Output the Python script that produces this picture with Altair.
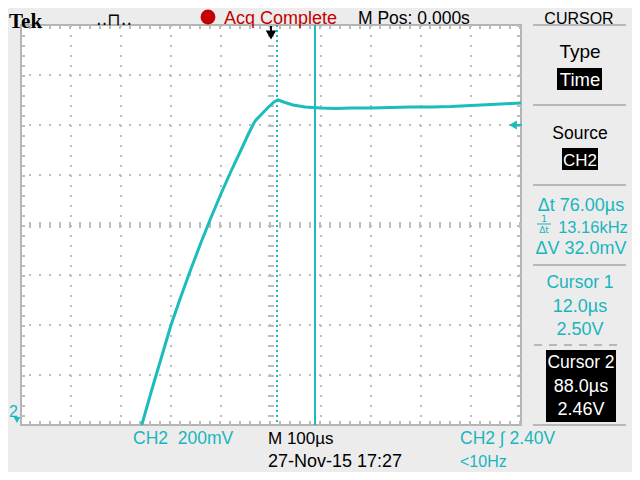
import altair as alt
import pandas as pd

# ---- waveform (time in microseconds, volts) ----
t_us = [-262, -240, -220, -200, -180, -160, -140, -120, -100, -80, -60, -45, -35, -30,
        -18, -6, 6, 14, 28, 44, 68, 98, 130, 160, 200, 240, 280, 320, 360, 400,
        440, 480, 500]
volts = [1.175, 1.33, 1.465, 1.60, 1.715, 1.825, 1.93, 2.03, 2.125, 2.215, 2.30, 2.365,
         2.405, 2.42, 2.445, 2.47, 2.492, 2.50, 2.49, 2.48, 2.472, 2.468, 2.466, 2.468,
         2.468, 2.47, 2.472, 2.472, 2.474, 2.478, 2.482, 2.486, 2.488]

grid_t = [-400, -300, -200, -100, 100, 200, 300, 400]
grid_v = [1.4, 1.6, 1.8, 2.2, 2.4, 2.6]
center_t = [0]
center_v = [2.0]
cursor1_t = [12.0]
cursor2_t = [88.0]
trigger_v = [2.40]

header = ["Tek", "Acq Complete", "M Pos: 0.000s", "CURSOR"]
panel = ["Type", "Time", "Source", "CH2", "Δt 76.00µs", "13.16kHz", "ΔV 32.0mV",
         "Cursor 1", "12.0µs", "2.50V", "Cursor 2", "88.0µs", "2.46V"]
footer = ["CH2\u00a0\u00a0200mV", "M 100µs", "CH2 ∫ 2.40V", "27-Nov-15 17:27", "<10Hz"]

TEAL = "#1cbcbc"
TXT_TEAL = "#19b5bd"
GRID = "#bdbdbd"
RED = "#c40000"
SANS = "Liberation Sans, Arial, sans-serif"

OX, OY = 21, 25  # page position of the graticule

xs = alt.Scale(domain=[-500, 500], nice=False, zero=False)
ys = alt.Scale(domain=[1.2, 2.8], nice=False, zero=False)

wave = pd.DataFrame({"t": t_us, "v": volts})


def one():
    return alt.Data(values=[{"k": 0}])


def txt(s, x, y, color="#000", size=18, align="center", font=SANS, weight="normal"):
    return alt.Chart(alt.Data(values=[{"s": s}])).mark_text(
        align=align, baseline="alphabetic", font=font, fontSize=size,
        color=color, fontWeight=weight
    ).encode(x=alt.value(x - OX), y=alt.value(y - OY), text="s:N")


def hline(x1, x2, y, color="#b8b8b8", w=2, dash=None):
    kw = dict(color=color, strokeWidth=w)
    if dash:
        kw["strokeDash"] = dash
    return alt.Chart(one()).mark_rule(**kw).encode(
        x=alt.value(x1 - OX), x2=alt.value(x2 - OX), y=alt.value(y - OY))


def box(x1, x2, y1, y2, color="#000"):
    return alt.Chart(one()).mark_rect(color=color).encode(
        x=alt.value(x1 - OX), x2=alt.value(x2 - OX),
        y=alt.value(y1 - OY), y2=alt.value(y2 - OY))


layers = []

# dotted graticule
layers.append(alt.Chart(pd.DataFrame({"t": grid_t})).mark_rule(
    color=GRID, strokeWidth=2, strokeDash=[2, 8]).encode(x=alt.X("t:Q", scale=xs, axis=None)))
layers.append(alt.Chart(pd.DataFrame({"v": grid_v})).mark_rule(
    color=GRID, strokeWidth=2, strokeDash=[2, 8]).encode(y=alt.Y("v:Q", scale=ys, axis=None)))
# centre cross with minor ticks
layers.append(alt.Chart(pd.DataFrame({"t": center_t})).mark_rule(
    color=GRID, strokeWidth=6, strokeDash=[2, 8]).encode(x=alt.X("t:Q", scale=xs, axis=None)))
layers.append(alt.Chart(pd.DataFrame({"v": center_v})).mark_rule(
    color=GRID, strokeWidth=6, strokeDash=[2, 8]).encode(y=alt.Y("v:Q", scale=ys, axis=None)))
# edge ticks (clipped to inside)
layers.append(alt.Chart(pd.DataFrame({"v": [1.2, 2.8]})).mark_rule(
    color=GRID, strokeWidth=8, strokeDash=[2, 8], clip=True).encode(y=alt.Y("v:Q", scale=ys, axis=None)))
layers.append(alt.Chart(pd.DataFrame({"t": [-500, 500]})).mark_rule(
    color=GRID, strokeWidth=8, strokeDash=[2, 8], clip=True).encode(x=alt.X("t:Q", scale=xs, axis=None)))

# cursors
layers.append(alt.Chart(pd.DataFrame({"t": cursor1_t})).mark_rule(
    color=TEAL, strokeWidth=2, strokeDash=[2, 3]).encode(x=alt.X("t:Q", scale=xs, axis=None)))
layers.append(alt.Chart(pd.DataFrame({"t": cursor2_t})).mark_rule(
    color=TEAL, strokeWidth=2).encode(x=alt.X("t:Q", scale=xs, axis=None)))

# waveform
layers.append(alt.Chart(wave).mark_line(color=TEAL, strokeWidth=3, clip=True).encode(
    x=alt.X("t:Q", scale=xs, axis=None), y=alt.Y("v:Q", scale=ys, axis=None)))

# trigger position marker (top) and trigger level marker (right)
layers.append(alt.Chart(pd.DataFrame({"t": center_t})).mark_point(
    shape="triangle-down", filled=True, color="#000", size=110, opacity=1).encode(
    x=alt.X("t:Q", scale=xs, axis=None), y=alt.value(10)))
layers.append(alt.Chart(pd.DataFrame({"t": center_t})).mark_rule(color="#000", strokeWidth=2).encode(
    x=alt.X("t:Q", scale=xs, axis=None), y=alt.value(1), y2=alt.value(9)))
layers.append(alt.Chart(pd.DataFrame({"v": trigger_v})).mark_point(
    shape="triangle-left", filled=True, color=TEAL, size=80, opacity=1).encode(
    x=alt.value(492), y=alt.Y("v:Q", scale=ys, axis=None)))
layers.append(alt.Chart(pd.DataFrame({"v": trigger_v})).mark_rule(color=TEAL, strokeWidth=2).encode(
    x=alt.value(492), x2=alt.value(501), y=alt.Y("v:Q", scale=ys, axis=None)))
# channel 2 marker bottom-left
layers.append(txt("2", 9, 417, TXT_TEAL, 16, "left"))
layers.append(alt.Chart(one()).mark_point(
    shape="triangle-down", filled=True, color=TEAL, size=45, opacity=1).encode(
    x=alt.value(17 - OX), y=alt.value(420 - OY)))

# header
layers.append(txt(header[0], 9, 28, "#000", 21, "left", "Liberation Serif, Times New Roman, serif", "bold"))
layers.append(txt("‥⊓‥", 114, 25, "#000", 17, "center", "DejaVu Sans"))
layers.append(alt.Chart(one()).mark_point(
    shape="circle", filled=True, color=RED, size=220, opacity=1).encode(
    x=alt.value(208 - OX), y=alt.value(17 - OY)))
layers.append(txt(header[1], 224, 24, RED, 18, "left"))
layers.append(txt(header[2], 358, 24, "#000", 17.5, "left"))
layers.append(txt(header[3], 579, 24, "#000", 16))

# right panel
for yy in [25, 105, 185, 265]:
    layers.append(hline(533, 626, yy))
layers.append(hline(534, 623, 345, dash=[8, 7]))
layers.append(hline(533, 626, 425))
layers.append(txt(panel[0], 580, 58, "#000", 19))
layers.append(box(557, 602, 68, 90))
layers.append(txt(panel[1], 580, 86, "#fff", 18.5))
layers.append(txt(panel[2], 580, 139, "#000", 17.5))
layers.append(box(562, 598, 148, 170))
layers.append(txt(panel[3], 580, 166, "#fff", 17))
layers.append(txt(panel[4], 581, 211, TXT_TEAL, 18))
layers.append(txt("1", 544, 222, TXT_TEAL, 9, "center", "DejaVu Sans"))
layers.append(hline(537, 551, 224, TXT_TEAL, 1))
layers.append(txt("Δt", 544, 233, TXT_TEAL, 9, "center", "DejaVu Sans"))
layers.append(txt(panel[5], 593, 233, TXT_TEAL, 16.5))
layers.append(txt(panel[6], 581, 254, TXT_TEAL, 18))
layers.append(txt(panel[7], 580, 288, TXT_TEAL, 17.5))
layers.append(txt(panel[8], 580, 312, TXT_TEAL, 18))
layers.append(txt(panel[9], 580, 335, TXT_TEAL, 18))
layers.append(box(546, 616, 350, 422))
layers.append(txt(panel[10], 581, 368, "#fff", 17.5))
layers.append(txt(panel[11], 581, 392, "#fff", 18))
layers.append(txt(panel[12], 581, 415, "#fff", 18))

# footer
layers.append(txt(footer[0], 133, 444, TXT_TEAL, 17.5, "left"))
layers.append(txt(footer[1], 268, 444, "#000", 17, "left"))
layers.append(txt(footer[2], 460, 444, TXT_TEAL, 17.5, "left"))
layers.append(txt(footer[3], 268, 467, "#000", 18, "left"))
layers.append(txt(footer[4], 460, 467, TXT_TEAL, 16, "left"))

chart = alt.layer(*layers).properties(
    width=500, height=400,
    autosize=alt.AutoSizeParams(type="none"),
    padding={"left": 13, "top": 17, "right": 111, "bottom": 47},
    background="#ececec",
).configure_view(fill="white", stroke="#b4b4b4", strokeWidth=2)

chart.save("out.html", embed_options={"renderer": "svg", "actions": False})
